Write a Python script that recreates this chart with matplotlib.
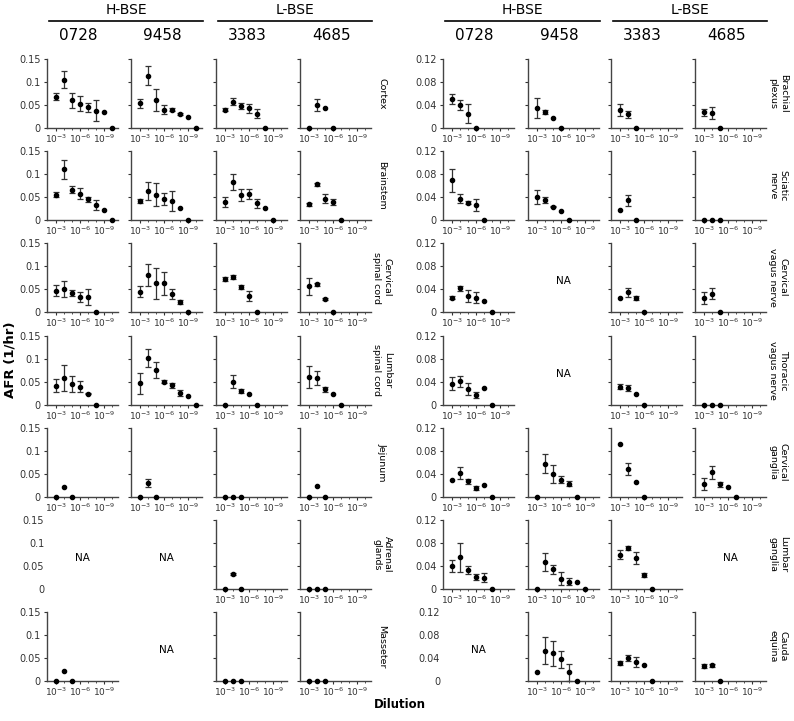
import numpy as np
import matplotlib.pyplot as plt

plt.rcParams['font.family'] = 'DejaVu Sans'

# points sit at dilutions 10^-3 ... 10^-10 (exponent shown on x)
dilution_exp = np.arange(3, 11)

groups = ['H-BSE', 'L-BSE']
samples = ['0728', '9458', '3383', '4685']

cns_tissues = ['Cortex', 'Brainstem', 'Cervical\nspinal cord', 'Lumbar\nspinal cord',
               'Jejunum', 'Adrenal\nglands', 'Masseter']
pns_tissues = ['Brachial\nplexus', 'Sciatic\nnerve', 'Cervical\nvagus nerve',
               'Thoracic\nvagus nerve', 'Cervical\nganglia', 'Lumbar\nganglia', 'Cauda\nequina']

# AFR (1/hr) per sample (0728, 9458, 3383, 4685); None = NA
cortex_afr = [[0.068, 0.105, 0.060, 0.053, 0.045, 0.038, 0.035, 0],
              [0.054, 0.114, 0.060, 0.040, 0.040, 0.031, 0.024, 0],
              [0.040, 0.057, 0.048, 0.043, 0.031, 0],
              [0, 0.051, 0.043, 0]]
cortex_err = [[0.008, 0.018, 0.017, 0.017, 0.010, 0.022, 0, 0],
              [0.010, 0.021, 0.024, 0.010, 0.004, 0.002, 0, 0],
              [0.004, 0.008, 0.007, 0.010, 0.010, 0],
              [0, 0.013, 0, 0]]

brainstem_afr = [[0.055, 0.110, 0.066, 0.057, 0.045, 0.032, 0.022, 0],
                 [0.041, 0.063, 0.055, 0.045, 0.041, 0.027, 0],
                 [0.039, 0.083, 0.055, 0.057, 0.036, 0.026, 0],
                 [0.034, 0.078, 0.046, 0.039, 0]]
brainstem_err = [[0.005, 0.021, 0.007, 0.012, 0.006, 0.011, 0, 0],
                 [0.004, 0.020, 0.025, 0.013, 0.021, 0, 0],
                 [0.010, 0.017, 0.013, 0.011, 0.009, 0, 0],
                 [0.004, 0.003, 0.010, 0.006, 0]]

cervical_cord_afr = [[0.046, 0.050, 0.041, 0.033, 0.033, 0],
                     [0.044, 0.081, 0.062, 0.062, 0.039, 0.022, 0],
                     [0.072, 0.076, 0.054, 0.035, 0],
                     [0.056, 0.060, 0.028, 0]]
cervical_cord_err = [[0.012, 0.018, 0.006, 0.011, 0.018, 0],
                     [0.012, 0.024, 0.034, 0.025, 0.010, 0.004, 0],
                     [0.005, 0.005, 0.005, 0.010, 0],
                     [0.018, 0.004, 0.002, 0]]

lumbar_cord_afr = [[0.042, 0.059, 0.046, 0.040, 0.025, 0],
                   [0.047, 0.102, 0.076, 0.051, 0.043, 0.026, 0.019, 0],
                   [0, 0.051, 0.030, 0.024, 0],
                   [0.061, 0.059, 0.034, 0.024, 0]]
lumbar_cord_err = [[0.014, 0.028, 0.018, 0.012, 0.002, 0],
                   [0.023, 0.020, 0.017, 0.004, 0.005, 0.006, 0, 0],
                   [0, 0.014, 0.004, 0, 0],
                   [0.024, 0.015, 0.005, 0, 0]]

jejunum_afr = [[0, 0.021, 0], [0, 0.030, 0], [0, 0, 0], [0, 0.024, 0]]
jejunum_err = [[0, 0, 0], [0, 0.009, 0], [0, 0, 0], [0, 0, 0]]

adrenal_afr = [None, None, [0, 0.033, 0], [0, 0, 0]]
adrenal_err = [None, None, [0, 0.002, 0], [0, 0, 0]]

masseter_afr = [[0, 0.021, 0], None, [0, 0, 0], [0, 0, 0]]
masseter_err = [[0, 0, 0], None, [0, 0, 0], [0, 0, 0]]

brachial_afr = [[0.051, 0.040, 0.025, 0], [0.035, 0.028, 0.017, 0],
                [0.031, 0.024, 0], [0.027, 0.026, 0]]
brachial_err = [[0.009, 0.008, 0.017, 0], [0.017, 0.004, 0, 0],
                [0.010, 0.006, 0], [0.006, 0.010, 0]]

sciatic_afr = [[0.069, 0.037, 0.030, 0.026, 0], [0.040, 0.035, 0.023, 0.015, 0],
               [0.017, 0.034, 0], [0, 0, 0]]
sciatic_err = [[0.020, 0.008, 0.003, 0.010, 0], [0.012, 0.005, 0.001, 0, 0],
               [0, 0.010, 0], [0, 0, 0]]

cervical_vagus_afr = [[0.025, 0.041, 0.028, 0.025, 0.020, 0], None,
                      [0.025, 0.034, 0.024, 0], [0.024, 0.032, 0]]
cervical_vagus_err = [[0.003, 0.005, 0.010, 0.010, 0, 0], None,
                      [0, 0.008, 0.003, 0], [0.010, 0.009, 0]]

thoracic_vagus_afr = [[0.037, 0.041, 0.028, 0.018, 0.029, 0], None,
                      [0.032, 0.030, 0.019, 0], [0, 0, 0]]
thoracic_vagus_err = [[0.011, 0.010, 0.010, 0.005, 0, 0], None,
                      [0.005, 0.005, 0, 0], [0, 0, 0]]

cervical_ganglia_afr = [[0.029, 0.042, 0.027, 0.016, 0.021, 0],
                        [0, 0.058, 0.040, 0.030, 0.023, 0],
                        [0.093, 0.049, 0.026, 0],
                        [0.023, 0.043, 0.022, 0.018, 0]]
cervical_ganglia_err = [[0, 0.011, 0.004, 0.004, 0, 0],
                        [0, 0.016, 0.016, 0.006, 0.004, 0],
                        [0, 0.011, 0, 0],
                        [0.010, 0.011, 0.004, 0, 0]]

lumbar_ganglia_afr = [[0.040, 0.055, 0.033, 0.021, 0.020, 0],
                      [0, 0.047, 0.034, 0.018, 0.013, 0.013, 0],
                      [0.060, 0.071, 0.054, 0.024, 0], None]
lumbar_ganglia_err = [[0.011, 0.025, 0.007, 0.005, 0.007, 0],
                      [0, 0.015, 0.008, 0.011, 0.006, 0, 0],
                      [0.008, 0.004, 0.010, 0.003, 0], None]

cauda_afr = [None, [0.015, 0.053, 0.048, 0.038, 0.015, 0],
             [0.031, 0.040, 0.033, 0.027, 0], [0.026, 0.027, 0]]
cauda_err = [None, [0, 0.024, 0.022, 0.015, 0.015, 0],
             [0.004, 0.006, 0.008, 0, 0], [0.004, 0.002, 0]]

cns_afr = [cortex_afr, brainstem_afr, cervical_cord_afr, lumbar_cord_afr,
           jejunum_afr, adrenal_afr, masseter_afr]
cns_err = [cortex_err, brainstem_err, cervical_cord_err, lumbar_cord_err,
           jejunum_err, adrenal_err, masseter_err]
pns_afr = [brachial_afr, sciatic_afr, cervical_vagus_afr, thoracic_vagus_afr,
           cervical_ganglia_afr, lumbar_ganglia_afr, cauda_afr]
pns_err = [brachial_err, sciatic_err, cervical_vagus_err, thoracic_vagus_err,
           cervical_ganglia_err, lumbar_ganglia_err, cauda_err]

# --- layout (pixels) ---
W, H = 794, 721
left_cols = [47, 131, 216, 300]
right_cols = [443, 528, 611, 695]
row_tops = [59, 151, 243, 336, 428, 520, 612]
ax_w, ax_h = 71, 69

fig = plt.figure(figsize=(W / 100, H / 100), dpi=100)


def fx(px):
    return px / W


def fy(py):
    return 1 - py / H


def draw_panel(x0, top, afr, err, ymax, yticks, first_col):
    ax = fig.add_axes([fx(x0), fy(top + ax_h), ax_w / W, ax_h / H])
    ax.set_xlim(1.875, 10.75)
    ax.set_ylim(0, ymax)
    ax.set_yticks(yticks)
    ax.set_yticklabels(['%g' % t for t in yticks])
    ax.tick_params(axis='y', direction='out', length=2.5, width=0.8,
                   labelsize=7, pad=2, labelleft=first_col, colors='#333333')
    for s in ['top', 'right']:
        ax.spines[s].set_visible(False)
    for s in ['left', 'bottom']:
        ax.spines[s].set_color('#444444')
        ax.spines[s].set_linewidth(1.0)

    if afr is None:
        ax.spines['left'].set_visible(False)
        ax.spines['bottom'].set_visible(False)
        ax.tick_params(axis='y', length=0)
        ax.set_xticks([])
        if not first_col:
            ax.set_yticks([])
        ax.text(0.5, 0.45, 'NA', transform=ax.transAxes, ha='center',
                va='center', fontsize=7.5)
        return ax

    ax.set_xticks([3, 6, 9])
    ax.set_xticklabels([r'$10^{-3}$', r'$10^{-6}$', r'$10^{-9}$'])
    ax.set_xticks(dilution_exp, minor=True)
    ax.tick_params(axis='x', which='major', direction='out', length=2,
                   width=0.8, labelsize=6.5, pad=1.5, colors='#333333')
    ax.tick_params(axis='x', which='minor', direction='out', length=1.5,
                   width=0.6, colors='#333333')

    y = np.array(afr, dtype=float)
    e = np.array(err, dtype=float)
    x = dilution_exp[:len(y)]
    has_err = e > 0
    if has_err.any():
        ax.errorbar(x[has_err], y[has_err], yerr=e[has_err], fmt='none',
                    ecolor='#333333', elinewidth=0.9, capsize=2, capthick=0.9,
                    clip_on=False)
    ax.plot(x, y, 'o', color='black', ms=3, clip_on=False, zorder=3)
    return ax


for cols, afr_rows, err_rows, names, ymax, yticks, label_x in [
        (left_cols, cns_afr, cns_err, cns_tissues, 0.15, [0, 0.05, 0.1, 0.15], 382),
        (right_cols, pns_afr, pns_err, pns_tissues, 0.12, [0, 0.04, 0.08, 0.12], 778)]:
    for r, top in enumerate(row_tops):
        for c, x0 in enumerate(cols):
            draw_panel(x0, top, afr_rows[r][c], err_rows[r][c], ymax, yticks, c == 0)
        fig.text(fx(label_x), fy(top + ax_h / 2), names[r], rotation=-90,
                 ha='center', va='center', fontsize=6.8, multialignment='center')

    # group headers and sample numbers
    for g in range(2):
        xa = cols[2 * g] + 2
        xb = cols[2 * g + 1] + ax_w + 1
        fig.add_artist(plt.Line2D([fx(xa), fx(xb)], [fy(21), fy(21)],
                                  color='black', lw=1.2))
        fig.text(fx((xa + xb) / 2), fy(10), groups[g], ha='center',
                 va='center', fontsize=10)
    for c, x0 in enumerate(cols):
        fig.text(fx(x0 + ax_w / 2 - 4), fy(36), samples[c], ha='center',
                 va='center', fontsize=11)

fig.text(fx(10), fy(360), 'AFR (1/hr)', rotation=90, ha='center', va='center',
         fontsize=9.5, fontweight='bold')
fig.text(fx(400), fy(705), 'Dilution', ha='center', va='center',
         fontsize=8.5, fontweight='bold')

fig.savefig('out.png', dpi=100)
